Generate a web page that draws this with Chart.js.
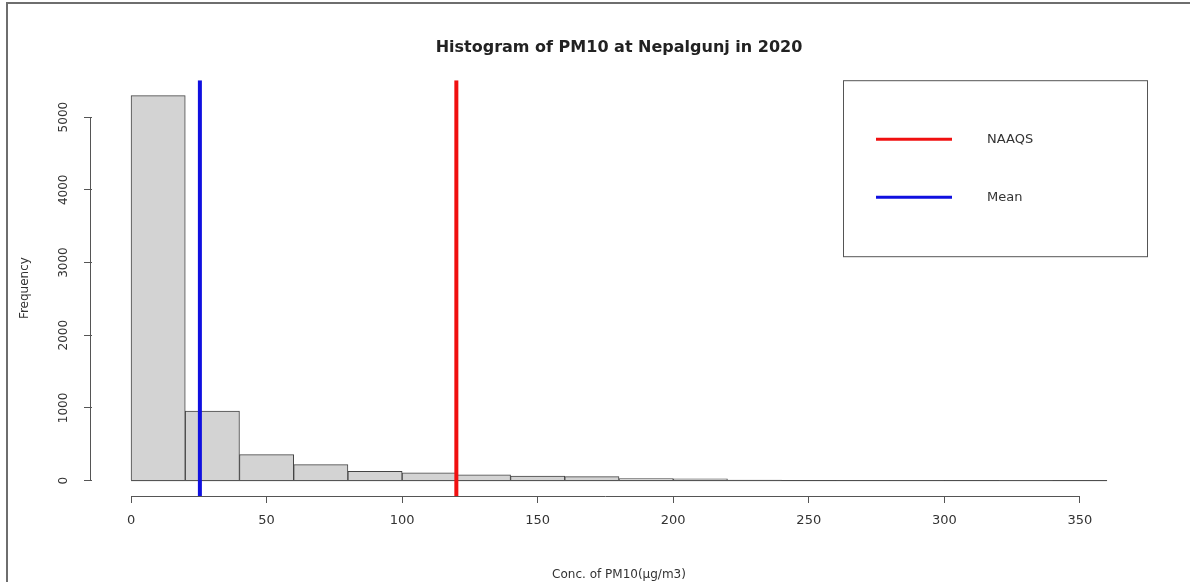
<!DOCTYPE html>
<html>
<head>
  <title>Histogram of PM10 at Nepalgunj in 2020</title>
  <script src="https://cdn.jsdelivr.net/npm/chart.js"></script>
  <style>
    body { margin: 0; background: #fff; }
    #wrap { position: relative; width: 1190px; height: 582px; }
    #frame { position: absolute; left: 6px; top: 2px; right: 0; bottom: 0;
             border-left: 2px solid #6e6e6e; border-top: 2px solid #6e6e6e; pointer-events: none; }
  </style>
</head>
<body>
<div id="wrap">
  <canvas id="chart" width="1190" height="582"></canvas>
  <div id="frame"></div>
</div>
<script>
// histogram bins (width 20) and counts
const binStart = 0;
const binWidth = 20;
const counts = [5296, 955, 358, 220, 128, 106, 78, 62, 55, 28, 23, 8, 2, 1, 6, 1, 0, 1];
const meanValue = 25.4;
const naaqsValue = 120;
const xTicks = [0, 50, 100, 150, 200, 250, 300, 350];
const yTicks = [0, 1000, 2000, 3000, 4000, 5000];

const binEnd = binStart + binWidth * counts.length;
const xPad = (binEnd - binStart) * 0.04;
const yTop = Math.max(...counts);
const yMin = -yTop * 0.04;
const yMax = yTop * 1.04;

const barData = counts.map((c, i) => ({ x: binStart + binWidth * (i + 0.5), y: c }));

const red = '#f01010';
const blue = '#1010e0';

// R-style axis lines: only from first to last tick
const axisLines = {
  id: 'axisLines',
  afterDraw(chart) {
    const { ctx, chartArea, scales } = chart;
    ctx.save();
    ctx.strokeStyle = '#555';
    ctx.lineWidth = 1;
    ctx.beginPath();
    ctx.moveTo(scales.x.getPixelForValue(xTicks[0]), chartArea.bottom + 0.5);
    ctx.lineTo(scales.x.getPixelForValue(xTicks[xTicks.length - 1]), chartArea.bottom + 0.5);
    ctx.moveTo(chartArea.left - 1.5, scales.y.getPixelForValue(yTicks[0]));
    ctx.lineTo(chartArea.left - 1.5, scales.y.getPixelForValue(yTicks[yTicks.length - 1]));
    ctx.stroke();
    ctx.restore();
  }
};

// boxed legend in the top right corner of the plot region
const boxLegend = {
  id: 'boxLegend',
  afterDraw(chart) {
    const { ctx, chartArea } = chart;
    const items = chart.data.datasets.filter(d => d.inLegend);
    const w = 304, h = 176;
    const left = chartArea.right - w + 1, top = chartArea.top;
    ctx.save();
    ctx.strokeStyle = '#555';
    ctx.lineWidth = 1;
    ctx.strokeRect(left + 0.5, top + 0.5, w, h);
    ctx.font = '13px "DejaVu Sans"';
    ctx.textBaseline = 'middle';
    ctx.fillStyle = '#333';
    items.forEach((d, i) => {
      const y = top + 59 + i * 58;
      ctx.strokeStyle = d.borderColor;
      ctx.lineWidth = 3;
      ctx.beginPath();
      ctx.moveTo(left + 33, y);
      ctx.lineTo(left + 109, y);
      ctx.stroke();
      ctx.fillText(d.label, left + 144, y);
    });
    ctx.restore();
  }
};

Chart.defaults.font.family = '"DejaVu Sans", sans-serif';
Chart.defaults.color = '#333';

new Chart(document.getElementById('chart'), {
  type: 'bar',
  data: {
    datasets: [
      {
        type: 'line', label: 'NAAQS', inLegend: true, order: 0,
        data: [{ x: naaqsValue, y: yMin }, { x: naaqsValue, y: yMax }],
        borderColor: red, borderWidth: 4, pointRadius: 0
      },
      {
        type: 'line', label: 'Mean', inLegend: true, order: 0,
        data: [{ x: meanValue, y: yMin }, { x: meanValue, y: yMax }],
        borderColor: blue, borderWidth: 4, pointRadius: 0
      },
      {
        type: 'line', label: 'base', order: 1,
        data: [{ x: binStart, y: 0 }, { x: binEnd, y: 0 }],
        borderColor: '#444', borderWidth: 1, pointRadius: 0
      },
      {
        label: 'Frequency', order: 2,
        data: barData,
        backgroundColor: '#d3d3d3',
        borderColor: '#444',
        borderWidth: 1,
        barPercentage: 1,
        categoryPercentage: 1
      }
    ]
  },
  options: {
    responsive: false,
    animation: false,
    layout: { padding: { left: 0, right: 44, top: 0, bottom: 0 } },
    plugins: {
      legend: { display: false },
      tooltip: { enabled: false },
      title: {
        display: true,
        fullSize: false,
        text: 'Histogram of PM10 at Nepalgunj in 2020',
        color: '#222',
        font: { size: 16, weight: 'bold' },
        padding: { top: 38, bottom: 23 }
      }
    },
    scales: {
      x: {
        type: 'linear',
        min: binStart - xPad,
        max: binEnd + xPad,
        offset: false,
        afterBuildTicks: s => { s.ticks = xTicks.map(v => ({ value: v })); },
        afterFit: s => { s.height = 86; },
        border: { display: false },
        grid: { offset: false, drawOnChartArea: false, drawTicks: true, tickLength: 7, color: '#555' },
        ticks: { font: { size: 13 }, padding: 10, maxRotation: 0, color: '#333', callback: v => String(v) },
        title: {
          display: true,
          text: 'Conc. of PM10(µg/m3)',
          font: { size: 12 },
          color: '#333',
          padding: { top: 0, bottom: 0 }
        }
      },
      y: {
        min: yMin,
        max: yMax,
        afterBuildTicks: s => { s.ticks = yTicks.map(v => ({ value: v })); },
        afterFit: s => { s.width = 92; },
        border: { display: false },
        grid: { drawOnChartArea: false, drawTicks: true, tickLength: 8, color: '#555' },
        ticks: { font: { size: 12 }, padding: 5, minRotation: 90, maxRotation: 90, crossAlign: 'center', color: '#333', callback: v => String(v) },
        title: {
          display: true,
          text: 'Frequency',
          font: { size: 12 },
          color: '#333',
          padding: { top: 18, bottom: 0 }
        }
      }
    }
  },
  plugins: [axisLines, boxLegend]
});
</script>
</body>
</html>
